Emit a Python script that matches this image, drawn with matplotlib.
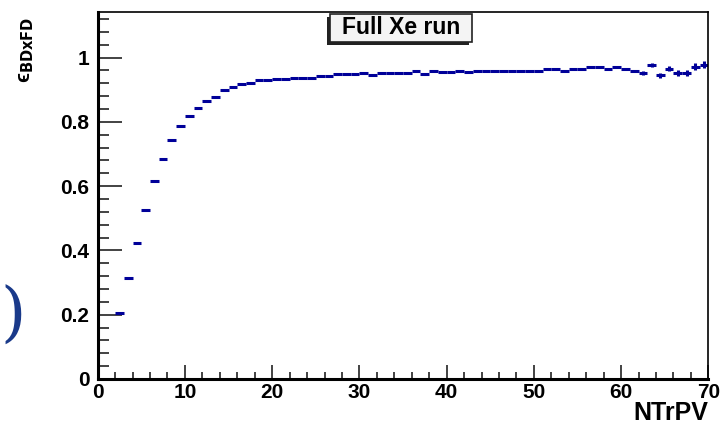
import numpy as np
import matplotlib
matplotlib.use("Agg")
import matplotlib.pyplot as plt
from matplotlib.patches import Rectangle
from matplotlib.ticker import MultipleLocator

# efficiency per NTrPV bin (bin low edges, width 1)
bin_low = np.arange(2, 70)
eff = [0.206, 0.313, 0.424, 0.526, 0.616, 0.685, 0.745, 0.788, 0.818, 0.844,
       0.864, 0.878, 0.899, 0.908, 0.917, 0.922, 0.930, 0.930, 0.934, 0.934,
       0.938, 0.938, 0.938, 0.943, 0.943, 0.948, 0.948, 0.948, 0.952, 0.946,
       0.951, 0.951, 0.951, 0.951, 0.959, 0.949, 0.959, 0.954, 0.954, 0.959,
       0.954, 0.958, 0.958, 0.958, 0.958, 0.958, 0.958, 0.958, 0.958, 0.964,
       0.964, 0.959, 0.964, 0.964, 0.970, 0.970, 0.966, 0.971, 0.966, 0.959,
       0.952, 0.976, 0.945, 0.966, 0.953, 0.953, 0.972, 0.978]
err = [0.001] * 50 + [0.002] * 8 + [0.003, 0.004, 0.005, 0.006, 0.008, 0.009,
                                     0.009, 0.010, 0.010, 0.011]

title = "Full Xe run"
xlabel = "NTrPV"
ylabel = "\u03f5" + r"$_{\mathbf{BDxFD}}$"

navy = "#000099"
plt.rcParams['font.family'] = ['Liberation Sans', 'DejaVu Sans']
plt.rcParams['font.weight'] = 'bold'

fig = plt.figure(figsize=(7.22, 4.29), dpi=100)
ax = fig.add_axes([0.1353, 0.1166, 0.8458, 0.8554])

x = bin_low + 0.5
ax.errorbar(x, eff, xerr=0.5, yerr=err, fmt='none', ecolor=navy,
            elinewidth=2.2, capsize=0)

ax.set_xlim(0, 70)
ax.set_ylim(0, 1.142)
ax.xaxis.set_major_locator(MultipleLocator(10))
ax.xaxis.set_minor_locator(MultipleLocator(2))
ax.yaxis.set_major_locator(MultipleLocator(0.2))
ax.yaxis.set_minor_locator(MultipleLocator(0.04))
ax.tick_params(axis='both', which='both', direction='in', top=False, right=False,
               labelsize=15, width=1.2, color='#222222')
ax.tick_params(axis='y', which='major', length=17, pad=6)
ax.tick_params(axis='y', which='minor', length=8)
ax.tick_params(axis='x', which='major', length=10, pad=3)
ax.tick_params(axis='x', which='minor', length=5)
ax.set_yticks([0, 0.2, 0.4, 0.6, 0.8, 1.0])
ax.set_yticklabels(["0", "0.2", "0.4", "0.6", "0.8", "1"])
for s in ax.spines.values():
    s.set_linewidth(1.2)
ax.spines['bottom'].set_linewidth(2.2)
ax.spines['left'].set_linewidth(2.2)

fig.text(0.981, 0.01, xlabel, ha='right', va='bottom', fontsize=18, fontweight='bold')
fig.text(0.037, 0.96, ylabel, rotation=90, ha='center', va='top', fontsize=15)

# title box with shadow
bx0, by0, bw, bh = 330 / 722, 1 - 42 / 429, 142 / 722, 28 / 429
fig.patches.append(Rectangle((bx0 - 3 / 722, by0 - 3 / 429), bw, bh,
                             transform=fig.transFigure, facecolor='#222222',
                             edgecolor='none', zorder=5))
fig.patches.append(Rectangle((bx0, by0), bw, bh, transform=fig.transFigure,
                             facecolor='#f4f4f4', edgecolor='#222222', lw=1.2,
                             zorder=6))
fig.text(bx0 + bw / 2, by0 + bh / 2, title, ha='center', va='center',
         fontsize=16.5, fontweight='bold', zorder=7)

# bit of the slide behind
fig.text(0.0, 0.262, ")", ha='left', va='center', fontsize=47,
         family='DejaVu Serif', fontweight='normal', color='#1a3a8a')

fig.savefig("out.png", dpi=100)
